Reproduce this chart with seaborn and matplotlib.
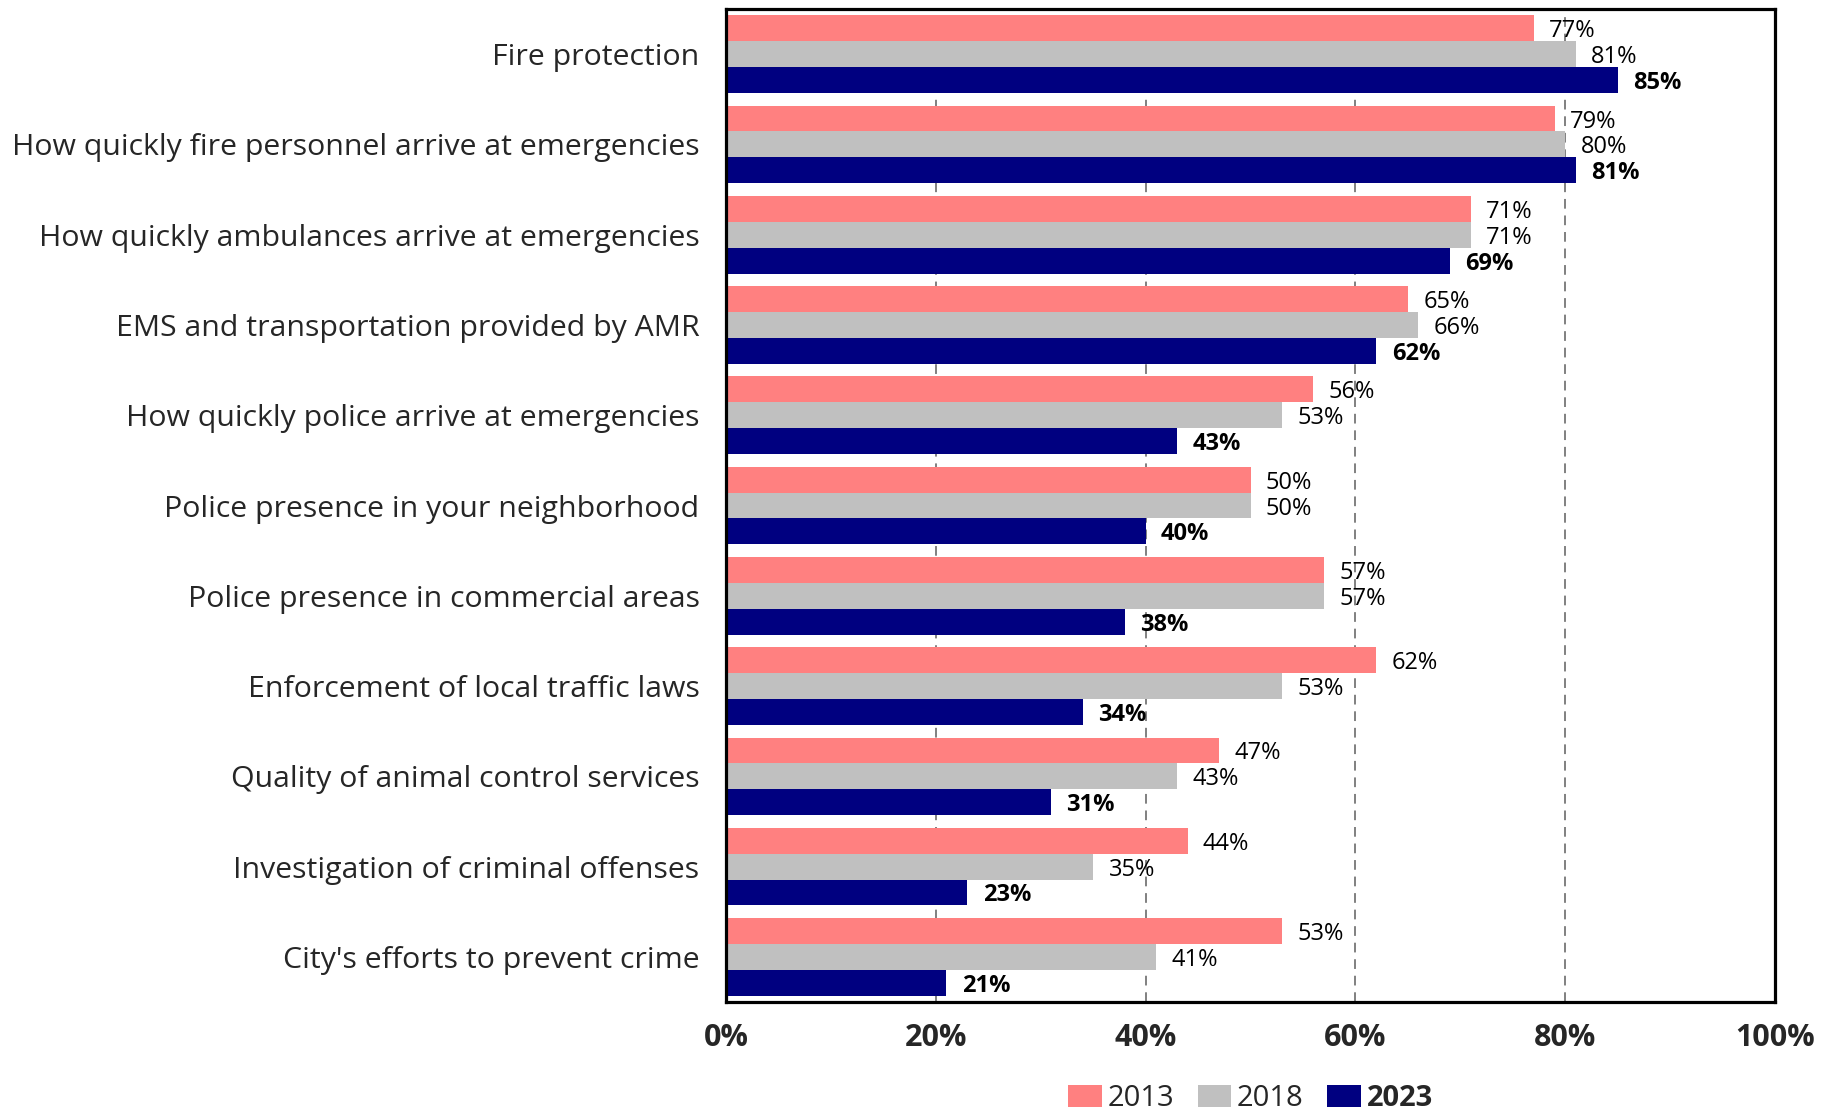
import matplotlib
matplotlib.use("Agg")
import matplotlib.pyplot as plt
from matplotlib.patches import Patch
import pandas as pd
import seaborn as sns

categories = [
    "Fire protection",
    "How quickly fire personnel arrive at emergencies",
    "How quickly ambulances arrive at emergencies",
    "EMS and transportation provided by AMR",
    "How quickly police arrive at emergencies",
    "Police presence in your neighborhood",
    "Police presence in commercial areas",
    "Enforcement of local traffic laws",
    "Quality of animal control services",
    "Investigation of criminal offenses",
    "City's efforts to prevent crime",
]
years = ["2013", "2018", "2023"]
values_2013 = [77, 79, 71, 65, 56, 50, 57, 62, 47, 44, 53]
values_2018 = [81, 80, 71, 66, 53, 50, 57, 53, 43, 35, 41]
values_2023 = [85, 81, 69, 62, 43, 40, 38, 34, 31, 23, 21]
x_ticks = [0, 20, 40, 60, 80, 100]
colors = ["#FF8080", "#C0C0C0", "#000080"]

series = {"2013": values_2013, "2018": values_2018, "2023": values_2023}
df = pd.DataFrame(
    [(c, y, v) for y in years for c, v in zip(categories, series[y])],
    columns=["Category", "Year", "Value"],
)

sns.set_theme(style="white")
plt.rcParams["font.family"] = ["Open Sans", "DejaVu Sans"]

fig = plt.figure(figsize=(18.37, 11.12), dpi=100)
ax = fig.add_axes([0.3952, 0.0989, 0.5711, 0.8930])

sns.barplot(
    data=df, y="Category", x="Value", hue="Year", hue_order=years,
    order=categories, orient="h", palette=colors, saturation=1,
    width=0.86, legend=False, ax=ax, zorder=2, linewidth=0,
)

ax.set_xlim(0, 100)
ax.set_ylim(len(categories) - 0.5, -0.5)
ax.set_xticks(x_ticks)
ax.set_xticklabels([f"{t}%" for t in x_ticks], fontsize=22, fontweight="bold")
ax.tick_params(axis="x", length=0, pad=15)
ax.tick_params(axis="y", length=0, pad=19, labelsize=21.8)
ax.set_xlabel("")
ax.set_ylabel("")

for t in x_ticks[1:-1]:
    ax.axvline(t, color="#808080", lw=1.4, ls=(0, (5, 3.5)), zorder=1)

for spine in ax.spines.values():
    spine.set_visible(True)
    spine.set_color("black")
    spine.set_linewidth(2.3)

for container, year in zip(ax.containers, years):
    bold = year == "2023"
    for bar, v in zip(container, series[year]):
        ax.annotate(
            f"{v}%", (bar.get_width(), bar.get_y() + bar.get_height() / 2),
            xytext=(11, 0), textcoords="offset points",
            ha="left", va="center_baseline", fontsize=17,
            fontweight="bold" if bold else "normal", color="black", zorder=3,
        )

handles = [Patch(facecolor=c, edgecolor="none") for c in colors]
leg = ax.legend(
    handles, years, loc="center", bbox_to_anchor=(0.5, -0.097), ncol=3,
    frameon=False, fontsize=21, handlelength=1.15, handleheight=0.8,
    handletextpad=0.2, columnspacing=0.8,
)
leg.get_texts()[2].set_fontweight("bold")

fig.savefig("out.png", dpi=100)
